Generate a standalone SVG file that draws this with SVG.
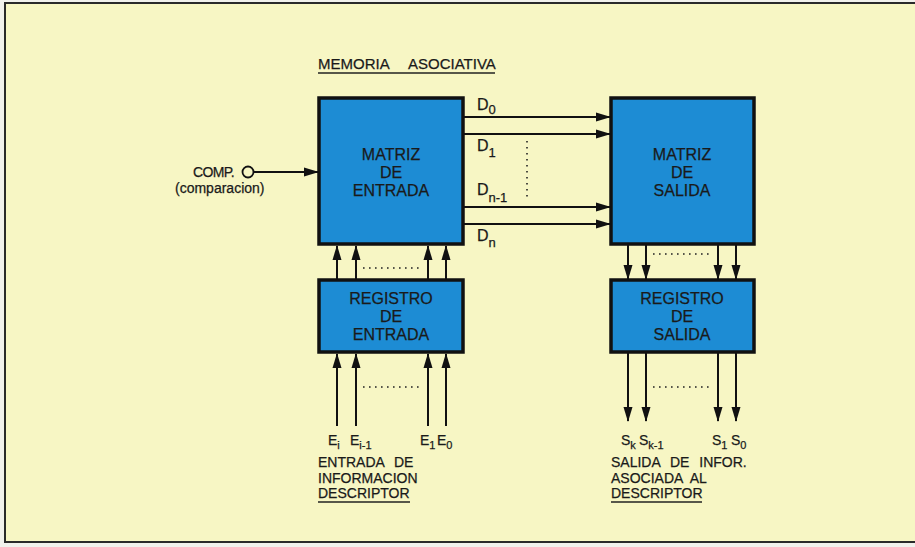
<svg xmlns="http://www.w3.org/2000/svg" width="915" height="547" viewBox="0 0 915 547">
  <style>
    .t { font-family: "Liberation Sans", Arial, sans-serif; fill: #1a1a1a; stroke: #1a1a1a; stroke-width: 0.25; }
    .box { fill: #1d8cd4; stroke: #111; stroke-width: 3.5; }
    .bt { font-size: 16px; text-anchor: middle; }
    .lbl { font-size: 14px; }
    .sub { font-size: 11px; }
    .w { stroke: #111; stroke-width: 2; fill: none; }
    .dot { stroke: #222; stroke-width: 1.6; stroke-dasharray: 1.6 4.4; fill: none; }
    .ul { stroke: #222; stroke-width: 1.5; }
  </style>
  <defs>
    <marker id="ah" markerWidth="15" markerHeight="10" refX="14" refY="5" orient="auto" markerUnits="userSpaceOnUse">
      <path d="M0,0.5 L15,5 L0,9.5 Z" fill="#111"/>
    </marker>
  </defs>

  <!-- page background and frame -->
  <rect x="0" y="0" width="915" height="547" fill="#f1f1ec"/>
  <rect x="5" y="3" width="915" height="539" fill="#f7f6c4" stroke="#2a2a2a" stroke-width="2"/>

  <!-- title -->
  <g id="title">
    <text class="t" x="318" y="69" font-size="15">MEMORIA</text>
    <text class="t" x="408" y="69" font-size="15">ASOCIATIVA</text>
    <line class="ul" x1="318" y1="73" x2="495" y2="73"/>
  </g>

  <!-- nodes -->
  <g id="matriz-entrada">
    <rect class="box" x="319" y="98" width="144" height="146"/>
    <text class="t bt" x="391" y="160">MATRIZ</text>
    <text class="t bt" x="391" y="178">DE</text>
    <text class="t bt" x="391" y="196">ENTRADA</text>
  </g>
  <g id="matriz-salida">
    <rect class="box" x="611" y="98" width="143" height="146"/>
    <text class="t bt" x="682" y="160">MATRIZ</text>
    <text class="t bt" x="682" y="178">DE</text>
    <text class="t bt" x="682" y="196">SALIDA</text>
  </g>
  <g id="registro-entrada">
    <rect class="box" x="319" y="280" width="144" height="72"/>
    <text class="t bt" x="391" y="304">REGISTRO</text>
    <text class="t bt" x="391" y="322">DE</text>
    <text class="t bt" x="391" y="340">ENTRADA</text>
  </g>
  <g id="registro-salida">
    <rect class="box" x="611" y="280" width="143" height="72"/>
    <text class="t bt" x="682" y="304">REGISTRO</text>
    <text class="t bt" x="682" y="322">DE</text>
    <text class="t bt" x="682" y="340">SALIDA</text>
  </g>

  <!-- COMP input -->
  <g id="comp">
    <text class="t" x="193" y="177" font-size="14" letter-spacing="-0.6">COMP.</text>
    <text class="t" x="175" y="193" font-size="14">(comparacion)</text>
    <circle cx="248" cy="172" r="5.5" fill="#f7f6c4" stroke="#111" stroke-width="1.8"/>
  </g>

  <!-- connectors -->
  <g id="connectors">
    <line class="w" x1="253.5" y1="172" x2="318" y2="172" marker-end="url(#ah)"/>
    <line class="w" x1="464" y1="117" x2="610" y2="117" marker-end="url(#ah)"/>
    <line class="w" x1="464" y1="134" x2="610" y2="134" marker-end="url(#ah)"/>
    <line class="w" x1="464" y1="207" x2="610" y2="207" marker-end="url(#ah)"/>
    <line class="w" x1="464" y1="224" x2="610" y2="224" marker-end="url(#ah)"/>
    <line class="dot" x1="527" y1="141" x2="527" y2="201"/>

    <line class="w" x1="337" y1="279" x2="337" y2="246" marker-end="url(#ah)"/>
    <line class="w" x1="356" y1="279" x2="356" y2="246" marker-end="url(#ah)"/>
    <line class="w" x1="428" y1="279" x2="428" y2="246" marker-end="url(#ah)"/>
    <line class="w" x1="446" y1="279" x2="446" y2="246" marker-end="url(#ah)"/>
    <line class="dot" x1="363" y1="268" x2="423" y2="268"/>

    <line class="w" x1="337" y1="426" x2="337" y2="354" marker-end="url(#ah)"/>
    <line class="w" x1="356" y1="426" x2="356" y2="354" marker-end="url(#ah)"/>
    <line class="w" x1="428" y1="426" x2="428" y2="354" marker-end="url(#ah)"/>
    <line class="w" x1="446" y1="426" x2="446" y2="354" marker-end="url(#ah)"/>
    <line class="dot" x1="363" y1="387" x2="423" y2="387"/>

    <line class="w" x1="628" y1="245" x2="628" y2="279" marker-end="url(#ah)"/>
    <line class="w" x1="646" y1="245" x2="646" y2="279" marker-end="url(#ah)"/>
    <line class="w" x1="718" y1="245" x2="718" y2="279" marker-end="url(#ah)"/>
    <line class="w" x1="736" y1="245" x2="736" y2="279" marker-end="url(#ah)"/>
    <line class="dot" x1="653" y1="254" x2="713" y2="254"/>

    <line class="w" x1="628" y1="353" x2="628" y2="421" marker-end="url(#ah)"/>
    <line class="w" x1="646" y1="353" x2="646" y2="421" marker-end="url(#ah)"/>
    <line class="w" x1="718" y1="353" x2="718" y2="421" marker-end="url(#ah)"/>
    <line class="w" x1="736" y1="353" x2="736" y2="421" marker-end="url(#ah)"/>
    <line class="dot" x1="653" y1="387" x2="713" y2="387"/>
  </g>

  <!-- D labels -->
  <g id="d-labels">
    <text class="t" x="477" y="110" font-size="16">D<tspan font-size="13" dy="4">0</tspan></text>
    <text class="t" x="477" y="151" font-size="16">D<tspan font-size="13" dy="6">1</tspan></text>
    <text class="t" x="477" y="195" font-size="16">D<tspan font-size="13" dy="7">n-1</tspan></text>
    <text class="t" x="477" y="241" font-size="16">D<tspan font-size="13" dy="6">n</tspan></text>
  </g>

  <!-- E labels -->
  <g id="e-labels">
    <text class="t lbl" x="328" y="445">E<tspan class="sub" dy="4">i</tspan></text>
    <text class="t lbl" x="350" y="445">E<tspan class="sub" dy="4">i-1</tspan></text>
    <text class="t lbl" x="420" y="445">E<tspan class="sub" dy="4">1</tspan></text>
    <text class="t lbl" x="437" y="445">E<tspan class="sub" dy="4">0</tspan></text>
    <text class="t lbl" x="318" y="467" word-spacing="6">ENTRADA DE</text>
    <text class="t lbl" x="318" y="483">INFORMACION</text>
    <text class="t lbl" x="318" y="498">DESCRIPTOR</text>
    <line class="ul" x1="318" y1="502" x2="410" y2="502"/>
  </g>

  <!-- S labels -->
  <g id="s-labels">
    <text class="t lbl" x="621" y="445">S<tspan class="sub" dy="4">k</tspan></text>
    <text class="t lbl" x="639" y="445">S<tspan class="sub" dy="4">k-1</tspan></text>
    <text class="t lbl" x="712" y="445">S<tspan class="sub" dy="4">1</tspan></text>
    <text class="t lbl" x="731" y="445">S<tspan class="sub" dy="4">0</tspan></text>
    <text class="t lbl" x="611" y="467" word-spacing="6">SALIDA DE INFOR.</text>
    <text class="t lbl" x="611" y="483" word-spacing="4">ASOCIADA AL</text>
    <text class="t lbl" x="611" y="498">DESCRIPTOR</text>
    <line class="ul" x1="611" y1="502" x2="702" y2="502"/>
  </g>
</svg>
